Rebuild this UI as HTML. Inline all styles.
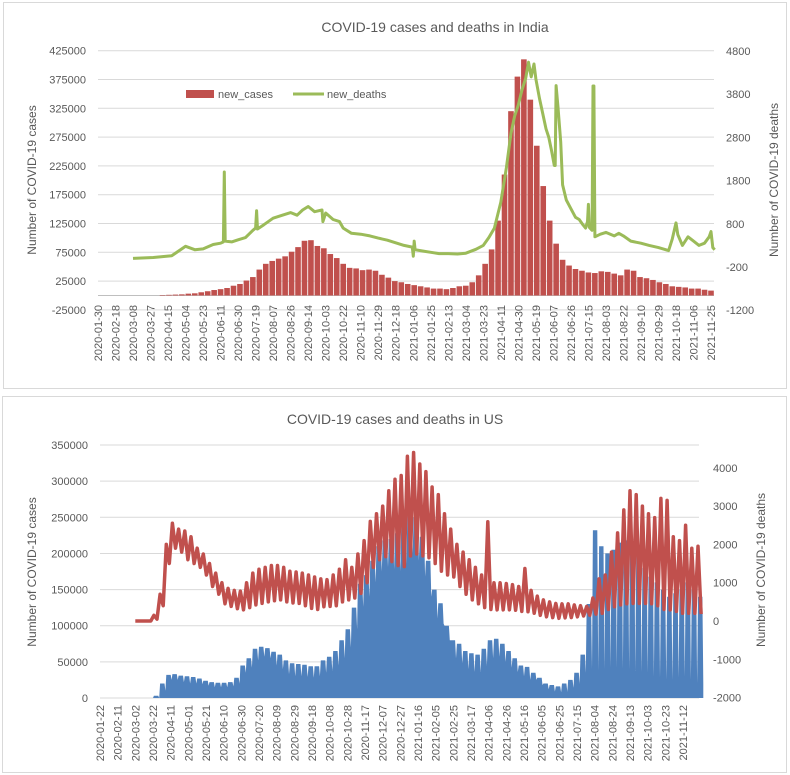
<!DOCTYPE html>
<html><head><meta charset="utf-8"><style>
html,body{margin:0;padding:0;background:#fff}
svg{display:block;font-family:"Liberation Sans",sans-serif}
</style></head><body>
<svg id="s" width="790" height="775" viewBox="0 0 790 775" xmlns="http://www.w3.org/2000/svg">
<rect x="0" y="0" width="790" height="775" fill="#fff"/>
<rect x="3.5" y="2.5" width="783" height="386" fill="#fff" stroke="#d9d9d9"/>
<rect x="2.5" y="396.5" width="784" height="376" fill="#fff" stroke="#d9d9d9"/>
<text x="435" y="32" font-size="14" fill="#595959" text-anchor="middle">COVID-19 cases and deaths in India</text>
<text x="395" y="424" font-size="14" fill="#595959" text-anchor="middle">COVID-19 cases and deaths in US</text>
<text transform="translate(36,180) rotate(-90)" font-size="12" fill="#595959" text-anchor="middle">Number of COVID-19 cases</text>
<text transform="translate(778,180) rotate(-90)" font-size="12" fill="#595959" text-anchor="middle">Number of COVID-19 deaths</text>
<text transform="translate(36,572) rotate(-90)" font-size="12" fill="#595959" text-anchor="middle">Number of COVID-19 cases</text>
<text transform="translate(765,570) rotate(-90)" font-size="12" fill="#595959" text-anchor="middle">Number of COVID-19 deaths</text>
<g>
<rect x="186" y="90" width="28" height="8" fill="#c0504d"/>
<text x="218" y="98" font-size="11" fill="#595959">new_cases</text>
<line x1="293" y1="94" x2="324" y2="94" stroke="#9bbb59" stroke-width="3"/>
<text x="327" y="98" font-size="11" fill="#595959">new_deaths</text>
</g>
</svg>
<script>
// ---------- India data ----------
const indiaCaseStart = 70; // day index of first weekly sample (day 0 = 2020-01-30)
const indiaCases = [800,1200,1600,2000,3200,3800,5600,7400,9500,11000,13000,17000,20000,26000,32000,45000,55000,60000,64000,68000,76000,84000,95000,96000,86000,82000,72000,65000,55000,48000,47000,44000,45000,43000,36000,31000,25000,23000,20000,18000,16000,14000,12000,12000,11000,13000,16000,17000,23000,35000,55000,80000,130000,210000,320000,380000,410000,340000,260000,190000,130000,90000,62000,52000,46000,43000,40000,39000,42000,41000,38000,35000,45000,43000,32000,30000,27000,23000,20000,16000,15000,14000,12000,12000,10000,8500];
const indiaDeathDays = [38,60,80,95,105,114,125,133,136,137,138,145,152,160,168,171,172,173,180,190,200,209,216,222,228,235,243,244,247,255,262,266,275,285,295,304,314,323,332,341,342,343,344,352,361,370,380,390,399,410,418,424,430,437,443,448,452,456,460,464,467,470,473,475,479,482,486,489,492,495,496,497,499,502,504,508,513,518,522,526,529,531,532,533,536,537,538,539,545,551,560,565,570,578,589,598,608,619,623,627,629,634,640,646,652,658,663,665,667,669];
const indiaDeaths = [0,20,60,280,200,220,320,350,380,2000,400,380,430,480,650,700,1100,680,780,930,1000,1060,1000,1120,1200,1080,1120,850,1050,900,850,700,580,560,520,470,420,360,300,260,50,400,200,170,140,110,110,100,120,210,300,480,700,1300,2100,2900,3300,3550,3900,4170,4540,4200,4500,4150,3700,3400,3000,2800,2500,2150,2150,4000,3500,2700,1700,1350,1150,950,900,780,700,850,1250,720,650,3990,3990,500,560,600,520,580,520,400,350,300,250,180,450,820,550,300,500,400,300,350,500,620,250,200];
const indiaLeftTicks = [425000,375000,325000,275000,225000,175000,125000,75000,25000,-25000];
const indiaRightTicks = [4800,3800,2800,1800,800,-200,-1200];
const indiaDateLabels = ["2020-01-30","2020-02-18","2020-03-08","2020-03-27","2020-04-15","2020-05-04","2020-05-23","2020-06-11","2020-06-30","2020-07-19","2020-08-07","2020-08-26","2020-09-14","2020-10-03","2020-10-22","2020-11-10","2020-11-29","2020-12-18","2021-01-06","2021-01-25","2021-02-13","2021-03-04","2021-03-23","2021-04-11","2021-04-30","2021-05-19","2021-06-07","2021-06-26","2021-07-15","2021-08-03","2021-08-22","2021-09-10","2021-09-29","2021-10-18","2021-11-06","2021-11-25"];

// ---------- US data ----------
const usWeekStart = 40; // day index of first weekly sample (day 0 = 2020-01-22)
const usDeathHi = [0,0,0,150,700,2000,2550,2400,2350,2200,1900,1750,1500,1250,1000,850,800,780,1000,1250,1350,1400,1450,1450,1400,1300,1280,1250,1200,1150,1100,1080,1200,1350,1600,1400,1750,2100,2600,2800,3000,3400,3700,3800,4300,4400,4100,3900,3500,3300,2800,2400,2000,1800,1600,1400,1200,2590,1000,1000,980,950,900,1370,800,650,550,500,460,450,450,420,400,380,600,1100,1200,1800,2300,2900,3400,3300,3000,2800,2700,3200,3150,2200,2100,2500,1900,1950];
const usDeathLo = [0,0,0,50,400,1500,1900,1800,1600,1500,1400,1200,900,700,450,380,320,290,350,420,460,500,530,550,500,470,460,400,330,300,370,380,400,500,550,600,720,1000,1400,1600,1680,1550,1450,1420,1700,1750,1700,1650,1500,1300,1200,1150,900,700,550,450,350,300,290,290,290,280,250,240,200,150,110,90,70,80,90,110,130,150,180,200,300,370,420,450,460,460,460,450,400,300,290,250,200,200,200,180];
const usCasesHi = [0,0,0,3000,20000,32000,33000,31000,30000,29000,27000,24000,22000,21000,21000,22000,28000,45000,55000,68000,71000,69000,64000,60000,52000,48000,47000,46000,44000,44000,52000,57000,65000,80000,95000,125000,158000,170000,190000,210000,218000,220000,228000,240000,260000,250000,223000,190000,150000,131000,100000,80000,75000,65000,62000,60000,68000,80000,82000,75000,65000,55000,45000,43000,35000,28000,20000,18000,16000,20000,25000,35000,60000,130000,232000,210000,200000,205000,215000,218000,215000,200000,180000,168000,160000,150000,140000,145000,150000,160000,150000,140000];
const usCasesLo = [0,0,0,0,10000,25000,25000,22000,20000,20000,19000,17000,15000,15000,15000,16000,20000,35000,42000,52000,57000,55000,45000,40000,33000,30000,30000,29000,28000,30000,35000,38000,45000,55000,70000,95000,126000,140000,160000,175000,181000,178000,175000,185000,200000,190000,168000,140000,110000,103000,80000,55000,48000,40000,36000,36000,45000,55000,57000,50000,42000,36000,30000,25000,25000,18000,12000,9000,8000,9000,14000,20000,35000,40000,38000,40000,42000,42000,40000,40000,38000,35000,35000,30000,28000,25000,25000,28000,30000,25000,20000,20000];
const usLeftTicks = [350000,300000,250000,200000,150000,100000,50000,0];
const usRightTicks = [4000,3000,2000,1000,0,-1000,-2000];
const usDateLabels = ["2020-01-22","2020-02-11","2020-03-02","2020-03-22","2020-04-11","2020-05-01","2020-05-21","2020-06-10","2020-06-30","2020-07-20","2020-08-09","2020-08-29","2020-09-18","2020-10-08","2020-10-28","2020-11-17","2020-12-07","2020-12-27","2021-01-16","2021-02-05","2021-02-25","2021-03-17","2021-04-06","2021-04-26","2021-05-16","2021-06-05","2021-06-25","2021-07-15","2021-08-04","2021-08-24","2021-09-13","2021-10-03","2021-10-23","2021-11-12"];

// ---------- scales ----------
const NS = "http://www.w3.org/2000/svg";
const svg = document.getElementById('s');
function mk(tag, attrs, parent){const e=document.createElementNS(NS,tag);for(const k in attrs)e.setAttribute(k,attrs[k]);(parent||svg).appendChild(e);return e;}
const ixDay = d => 98 + d*(613/665);
const iyL = v => 295.5 - v*(28.8/50000);
const iyR = v => 51 + (4800 - v)*(43.2/1000);
const uxDay = d => 100 + d*(583/660);
const uyL = v => 698 - v*(36.14/50000);
const uyR = v => 621 - v*(38.3/1000);

// ---------- India chart ----------
const gI = mk('g',{});


indiaLeftTicks.forEach(t=>{
  const y=iyL(t);
  const l=mk('line',{x1:98,x2:714,y1:y,y2:y,stroke:'#d9d9d9','stroke-width':1},gI);
  
  
  const tx=mk('text',{x:86,y:y+4,'font-size':11,fill:'#595959','text-anchor':'end'},gI);
  tx.textContent=t;
  
  
});
const axI=mk('line',{x1:98,x2:714,y1:iyL(0),y2:iyL(0),stroke:'#bfbfbf','stroke-width':1},gI);


indiaRightTicks.forEach(t=>{
  const tx=mk('text',{x:726,y:iyR(t)+4,'font-size':11,fill:'#595959'},gI);
  tx.textContent=t;
  
  
});
indiaDateLabels.forEach((s,i)=>{
  const x=ixDay(i*19);
  const tx=mk('text',{transform:`translate(${x+4},305) rotate(-90)`,'font-size':11,fill:'#595959','text-anchor':'end'},gI);
  tx.textContent=s;
  
  
});
const barsI=mk('g',{},gI);


indiaCases.forEach((v,i)=>{
  const d=indiaCaseStart+i*7;
  const x=ixDay(d), y=iyL(v), y0=iyL(0);
  const r=mk('rect',{x:x-2.8,y:y,width:5.6,height:Math.max(0.5,y0-y),fill:'#c0504d'},barsI);
  
  
});
const dPts=indiaDeathDays.map((d,i)=>ixDay(d).toFixed(1)+','+iyR(indiaDeaths[i]).toFixed(1)).join(' ');
const lineI=mk('polyline',{points:dPts,fill:'none',stroke:'#9bbb59','stroke-width':3,'stroke-linejoin':'round'},gI);



// ---------- US chart ----------
const gU = mk('g',{});


usLeftTicks.forEach(t=>{
  const y=uyL(t);
  const l=mk('line',{x1:100,x2:699,y1:y,y2:y,stroke:'#d9d9d9','stroke-width':1},gU);
  
  
  const tx=mk('text',{x:88,y:y+4,'font-size':11,fill:'#595959','text-anchor':'end'},gU);
  tx.textContent=t;
  
  
});
usRightTicks.forEach(t=>{
  const tx=mk('text',{x:713,y:uyR(t)+4,'font-size':11,fill:'#595959'},gU);
  tx.textContent=t;
  
  
});
usDateLabels.forEach((s,i)=>{
  const x=uxDay(i*20);
  const tx=mk('text',{transform:`translate(${x+4},705) rotate(-90)`,'font-size':11,fill:'#595959','text-anchor':'end'},gU);
  tx.textContent=s;
  
  
});
let aPts=[[uxDay(usWeekStart),uyL(0)]];
usCasesHi.forEach((v,i)=>{
  const d=usWeekStart+i*7;
  aPts.push([uxDay(d),uyL(v)]);
  aPts.push([uxDay(d+5),uyL(v)]);
  aPts.push([uxDay(d+6),uyL(usCasesLo[i])]);
});
const lastD=usWeekStart+(usCasesHi.length-1)*7+6;
aPts.push([uxDay(lastD),uyL(0)]);
const area=mk('polygon',{points:aPts.map(p=>p[0].toFixed(1)+','+p[1].toFixed(1)).join(' '),fill:'#4f81bd'},gU);


let lPts=[];
usDeathHi.forEach((v,i)=>{
  const d=usWeekStart+i*7;
  lPts.push(uxDay(d).toFixed(1)+','+uyR(v).toFixed(1));
  lPts.push(uxDay(d+3.5).toFixed(1)+','+uyR(usDeathLo[i]).toFixed(1));
});
const lineU=mk('polyline',{points:lPts.join(' '),fill:'none',stroke:'#c0504d','stroke-width':3.5,'stroke-linejoin':'round'},gU);


</script>
</body></html>
